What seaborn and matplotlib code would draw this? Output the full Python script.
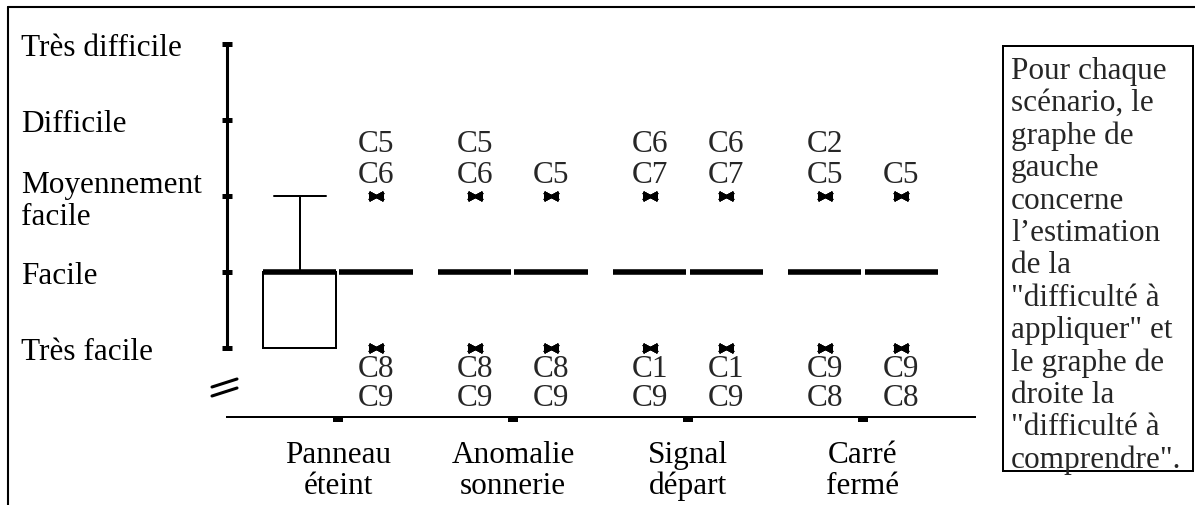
import matplotlib
matplotlib.use("Agg")
import matplotlib.pyplot as plt
from matplotlib.lines import Line2D
from matplotlib.patches import Rectangle
import numpy as np
import pandas as pd
import seaborn as sns

# ---- data ----
scenarios = ["Panneau\néteint", "Anomalie\nsonnerie", "Signal\ndépart", "Carré\nfermé"]
kinds = ["appliquer", "comprendre"]
cases = ["C1", "C2", "C3", "C4", "C5", "C6", "C7", "C8", "C9"]
levels = ["Très facile", "Facile", "Moyennement\nfacile", "Difficile", "Très difficile"]

# 1 = très facile ... 5 = très difficile, one value per case C1..C9
ratings_appliquer = [
    [2, 2, 2, 1, 3, 2, 2, 1, 1],
    [2, 2, 2, 2, 3, 3, 2, 1, 1],
    [1, 2, 2, 2, 2, 3, 3, 2, 1],
    [2, 3, 2, 2, 3, 2, 2, 1, 1],
]
ratings_comprendre = [
    [2, 2, 2, 2, 3, 3, 2, 1, 1],
    [2, 2, 2, 2, 3, 2, 2, 1, 1],
    [1, 2, 2, 2, 2, 3, 3, 2, 1],
    [2, 2, 2, 2, 3, 2, 2, 1, 1],
]

# outlier labels, top to bottom, box by box (appliquer, comprendre, ...)
top_labels = [[], ["C5", "C6"], ["C5", "C6"], ["C5"],
              ["C6", "C7"], ["C6", "C7"], ["C2", "C5"], ["C5"]]
bottom_labels = [[], ["C8", "C9"], ["C8", "C9"], ["C8", "C9"],
                 ["C1", "C9"], ["C1", "C9"], ["C9", "C8"], ["C9", "C8"]]

note = ("Pour chaque\nscénario, le\ngraphe de\ngauche\nconcerne\nl’estimation\nde la\n"
        "\"difficulté à\nappliquer\" et\nle graphe de\ndroite la\n\"difficulté à\ncomprendre\".")

rows = []
for i, sc in enumerate(scenarios):
    for kind, table in zip(kinds, [ratings_appliquer, ratings_comprendre]):
        for case, v in zip(cases, table[i]):
            rows.append({"scenario": sc, "type": kind, "cas": case, "note": v})
df = pd.DataFrame(rows)

# ---- figure ----
W, H = 1195, 506
FS = 22.5


def fx(px):
    return px / W


def fy(py):
    return 1 - py / H


sns.set_style("white")
plt.rcParams["font.family"] = ["Liberation Serif", "DejaVu Serif"]

fig = plt.figure(figsize=(W / 100, H / 100), dpi=100)
ax = fig.add_axes([fx(227), fy(418), fx(975) - fx(227), (418 - 29.8) / H])

width = 0.87
sns.boxplot(data=df, x="scenario", y="note", hue="type", order=scenarios,
            hue_order=kinds, palette=["white", "white"], linecolor="black",
            linewidth=1.44, width=width, gap=0.04, whis=1.5, showfliers=False,
            medianprops=dict(linewidth=4, color="black"),
            capwidths=0.30, legend=False, ax=ax)

ax.set_xlim(-0.634, 3.64)
ax.set_ylim(0.092, 5.2)
ax.set_xlabel("")
ax.set_ylabel("")

ax.set_yticks(range(1, 6))
ax.set_yticklabels(levels)
ax.tick_params(axis="y", left=True, direction="inout", length=7.2, width=3.6,
               pad=144.7, labelsize=FS, colors="black")
for t in ax.get_yticklabels():
    t.set_ha("left")
    t.set_linespacing(1.1)

ax.set_xticks(range(len(scenarios)))
ax.set_xticklabels(scenarios)
ax.tick_params(axis="x", bottom=True, direction="out", length=3.6, width=7.2,
               pad=12.7, labelsize=FS, colors="black")
for t in ax.get_xticklabels():
    t.set_linespacing(1.1)

sns.despine(ax=ax)
ax.spines["left"].set_bounds(1, 5)
ax.spines["left"].set_linewidth(2.2)
ax.spines["left"].set_color("black")
ax.spines["bottom"].set_linewidth(1.44)
ax.spines["bottom"].set_color("black")

# outliers (flattened asterisk) and their case labels
for b in range(len(top_labels)):
    i, j = divmod(b, 2)
    vals = np.array((ratings_appliquer, ratings_comprendre)[j][i])
    xpos = i + (j - 0.5) * width / 2
    q1, q3 = np.percentile(vals, [25, 75])
    iqr = q3 - q1
    out = np.unique(vals[(vals < q1 - 1.5 * iqr) | (vals > q3 + 1.5 * iqr)])
    for v in out:
        for mk, ms in [((2, 2, 90), 10.5), ((2, 2, 62), 12), ((2, 2, 118), 12)]:
            ax.plot([xpos], [v], ls="none", marker=mk, markersize=ms,
                    markeredgewidth=2.2, color="black", clip_on=False)
    for k, lab in enumerate(reversed(top_labels[b])):
        ax.annotate(lab, xy=(xpos, vals.max()), xytext=(0, (14 + 31 * k) * 0.72),
                    textcoords="offset points", ha="center", va="baseline",
                    fontsize=FS, annotation_clip=False)
    for k, lab in enumerate(bottom_labels[b]):
        ax.annotate(lab, xy=(xpos, vals.min()), xytext=(0, -(28 + 29 * k) * 0.72),
                    textcoords="offset points", ha="center", va="baseline",
                    fontsize=FS, annotation_clip=False)

# axis break mark
fig.add_artist(Line2D([fx(212), fx(237)], [fy(388), fy(380)], color="black", lw=2.2))
fig.add_artist(Line2D([fx(212), fx(237)], [fy(397), fy(389)], color="black", lw=2.2))

# outer frame (top and left edges)
fig.add_artist(Line2D([fx(8), 1], [fy(8), fy(8)], color="black", lw=1.5))
fig.add_artist(Line2D([fx(8), fx(8)], [fy(8), 0], color="black", lw=1.5))

# explanatory box
fig.add_artist(Rectangle((fx(1003), fy(472)), fx(1193) - fx(1003), (472 - 47) / H,
                         fill=False, lw=1.44, ec="black"))
fig.text(fx(1011), fy(57), note, ha="left", va="top", fontsize=FS, linespacing=1.15)

fig.savefig("out.png", dpi=100)
